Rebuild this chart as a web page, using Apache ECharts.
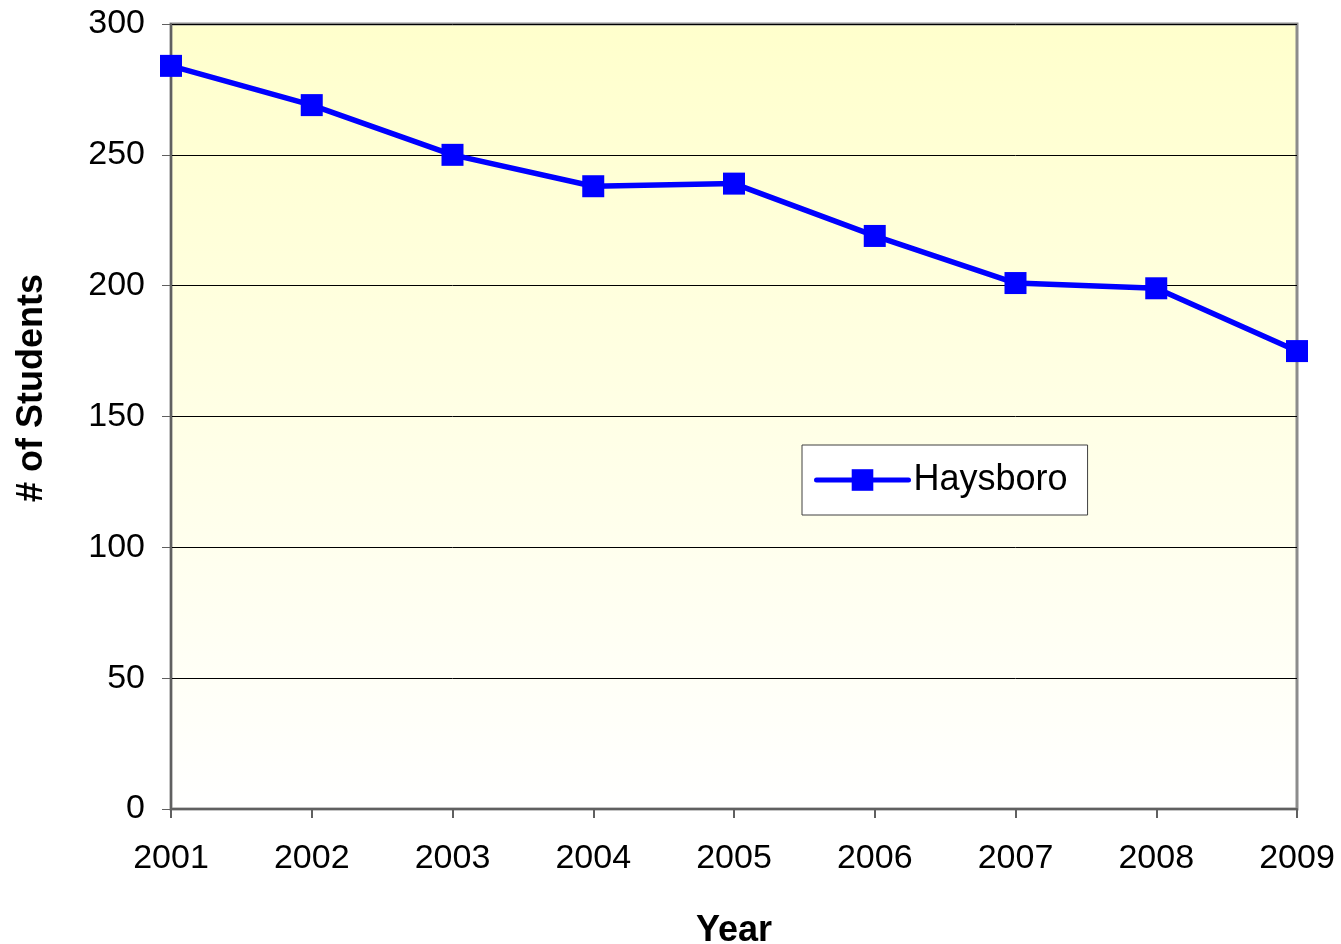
<!DOCTYPE html>
<html lang="en">
<head>
    <meta charset="UTF-8">
    <title>Haysboro</title>
    <script src="https://cdn.jsdelivr.net/npm/echarts@6/dist/echarts.min.js"></script>
    <style>
        html, body { margin: 0; padding: 0; background: #fff; }
    </style>
</head>
<body>
<div id="main" style="width: 1341px;height:944px;"></div>

<script>
    // data
    const years = ['2001', '2002', '2003', '2004', '2005', '2006', '2007', '2008', '2009'];
    const students = [284, 269, 250, 238, 239, 219, 201, 199, 175];
    const seriesName = 'Haysboro';

    let myChart = echarts.init(document.getElementById('main'));
    let font = 'Liberation Sans, Arial, sans-serif';
    let option = {
        animation: false,
        textStyle: { fontFamily: font },
        grid: {
            left: 171,
            right: 44,
            top: 24,
            bottom: 135,
            outerBoundsMode: 'none',
            containLabel: false,
            show: true,
            borderColor: '#8c8c8c',
            borderWidth: 3,
            backgroundColor: new echarts.graphic.LinearGradient(0, 0, 0, 1, [
                { offset: 0, color: '#ffffcc' },
                { offset: 1, color: '#ffffff' }
            ])
        },
        legend: {
            data: [seriesName],
            left: 802,
            top: 445,
            backgroundColor: '#ffffff',
            borderColor: '#404040',
            borderWidth: 1,
            borderRadius: 0,
            padding: [17, 20, 17, 12],
            itemWidth: 92,
            itemHeight: 27,
            itemGap: 0,
            lineStyle: { width: 5, cap: 'round' },
            textStyle: { fontSize: 36, color: '#000', fontFamily: font, padding: [0, 0, 0, 0] }
        },
        xAxis: {
            type: 'category',
            data: years,
            boundaryGap: false,
            name: 'Year',
            nameLocation: 'middle',
            nameGap: 104,
            nameTextStyle: { fontSize: 36, fontWeight: 'bold', color: '#000' },
            axisLine: { lineStyle: { color: '#606060', width: 2 } },
            axisTick: { length: 9, lineStyle: { color: '#606060', width: 2 } },
            axisLabel: { fontSize: 34, color: '#000', margin: 33 },
            splitLine: { show: false }
        },
        yAxis: {
            type: 'value',
            min: 0,
            max: 300,
            interval: 50,
            axisLine: { show: true, lineStyle: { color: '#606060', width: 2 } },
            axisTick: { show: true, length: 9, lineStyle: { color: '#606060', width: 1 } },
            axisLabel: { fontSize: 34, color: '#000', margin: 26 },
            splitLine: { show: true, lineStyle: { color: '#000', width: 1 } }
        },
        graphic: [{
            type: 'text',
            left: 14,
            top: 274,
            rotation: Math.PI / 2,
            style: {
                text: '# of Students',
                font: 'bold 36px ' + font,
                fill: '#000'
            }
        }],
        series: [{
            name: seriesName,
            type: 'line',
            data: students,
            symbol: 'rect',
            symbolSize: 22,
            lineStyle: { color: '#0000ff', width: 5.5 },
            itemStyle: { color: '#0000ff' }
        }]
    };
    myChart.setOption(option);
</script>
</body>
</html>
